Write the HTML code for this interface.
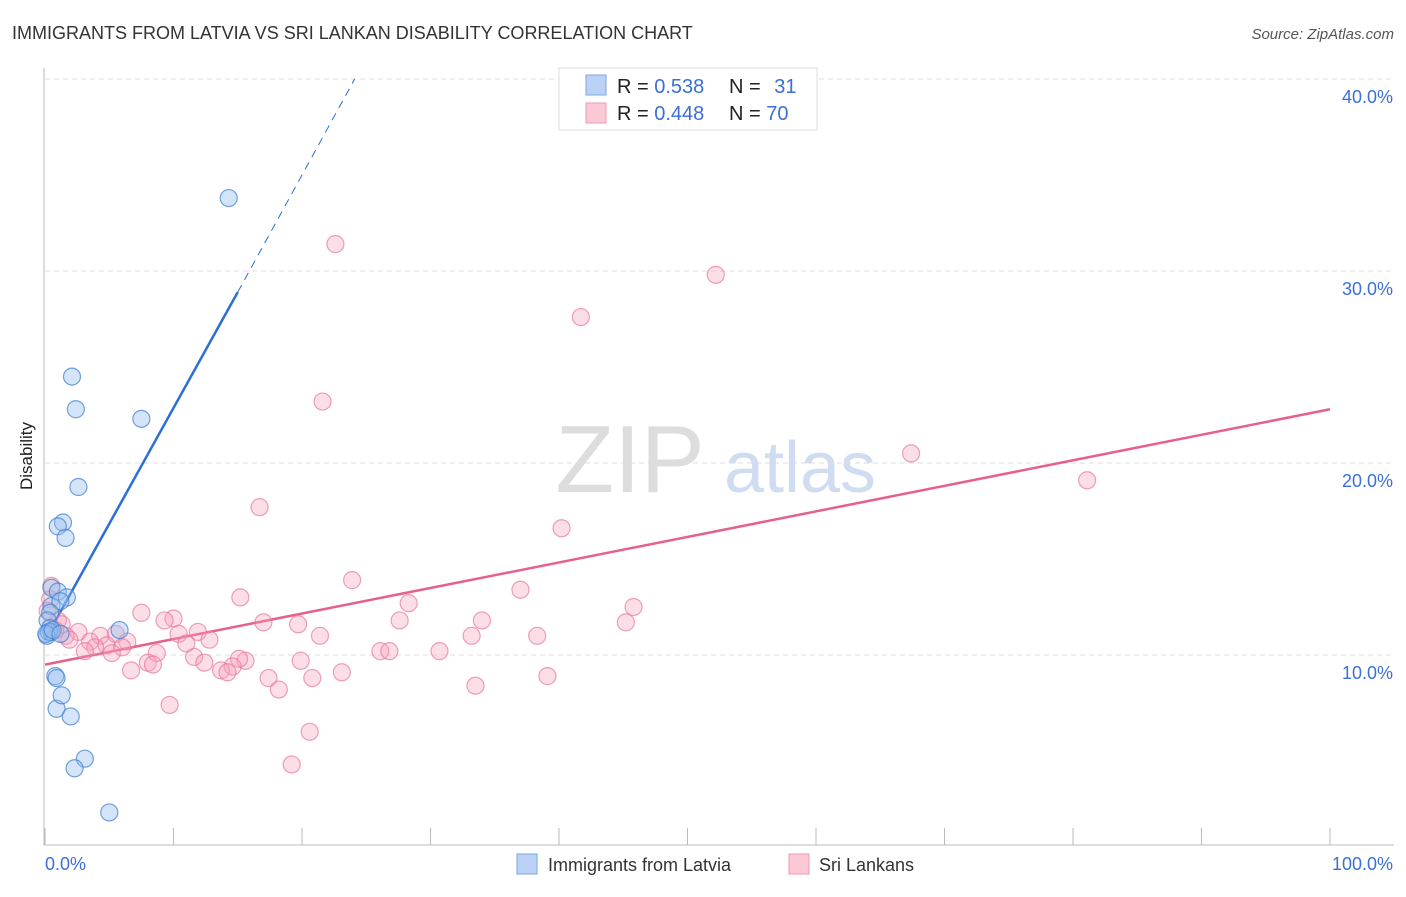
<!DOCTYPE html>
<html><head><meta charset="utf-8"><style>
body{margin:0;background:#fff;font-family:"Liberation Sans",sans-serif;}
svg text{font-family:"Liberation Sans",sans-serif;}
</style></head><body>
<svg id="chart" width="1406" height="892" xmlns="http://www.w3.org/2000/svg">
<text x="12" y="39" font-size="18" fill="#333">IMMIGRANTS FROM LATVIA VS SRI LANKAN DISABILITY CORRELATION CHART</text>
<text x="1394" y="39" font-size="15" fill="#555" font-style="italic" text-anchor="end">Source: ZipAtlas.com</text>
<text x="32" y="456" font-size="17" fill="#222" text-anchor="middle" transform="rotate(-90 32 456)">Disability</text>
<text x="630" y="492" font-size="96" fill="#ddd" font-family="Liberation Serif" text-anchor="middle">ZIP</text>
<text x="800" y="492" font-size="72" fill="#cfdcf2" text-anchor="middle">atlas</text>
<g id="grid"></g><g id="axes"></g><g id="lines"></g><g id="pts"></g>
<g>
<rect x="559" y="68" width="258" height="62" fill="#fff" stroke="#ddd"/>
<rect x="586" y="75" width="20" height="20" fill="#b9d2f5" stroke="#7ea6e0"/>
<rect x="586" y="103" width="20" height="20" fill="#fbc8d6" stroke="#ef9ab2"/>
<text x="617" y="93" font-size="20" fill="#222">R = <tspan fill="#3b6fd8">0.538</tspan></text>
<text x="729" y="93" font-size="20" fill="#222">N = <tspan fill="#3b6fd8" dx="8">31</tspan></text>
<text x="617" y="120" font-size="20" fill="#222">R = <tspan fill="#3b6fd8">0.448</tspan></text>
<text x="729" y="120" font-size="20" fill="#222">N = <tspan fill="#3b6fd8">70</tspan></text>
</g>
<g>
<rect x="517" y="854" width="20" height="20" fill="#b9d2f5" stroke="#7ea6e0"/>
<text x="548" y="871" font-size="18" fill="#333">Immigrants from Latvia</text>
<rect x="789" y="854" width="20" height="20" fill="#fbc8d6" stroke="#ef9ab2"/>
<text x="819" y="871" font-size="18" fill="#333">Sri Lankans</text>
</g>
</svg>
<script>
const yTicks=[10,20,30,40];
const yTickLabels=["10.0%","20.0%","30.0%","40.0%"];
const xEndLabels=["0.0%","100.0%"];
const latviaX=[14.3,2.1,2.4,7.5,2.6,1.4,1.0,1.6,0.5,1.0,1.7,0.5,1.2,0.4,0.2,0.4,0.15,0.5,5.8,0.8,0.9,0.9,1.3,2.0,3.1,2.3,5.0,0.3,0.1,0.6,1.2];
const latviaY=[33.8,24.5,22.8,22.3,18.75,16.9,16.7,16.1,13.5,13.3,13.0,12.55,12.8,12.2,11.8,11.4,11.0,11.2,11.3,8.9,8.8,7.2,7.9,6.8,4.6,4.1,1.8,11.2,11.1,11.3,11.1];
const lankaX=[22.6,52.2,41.7,21.6,67.4,81.1,16.7,40.2,23.9,37.0,15.2,28.3,45.8,7.5,10.0,34.0,27.6,9.3,45.2,17.0,19.7,21.4,33.2,38.3,11.9,10.4,2.6,5.5,4.3,1.6,3.5,6.4,11.0,12.8,4.8,6.0,3.9,3.1,5.2,8.7,26.1,26.8,30.7,11.6,12.4,15.6,19.9,15.1,8.0,8.4,14.6,6.7,13.7,14.2,23.1,17.4,20.8,39.1,18.2,33.5,9.7,20.6,19.2,0.5,0.4,1.0,0.8,1.3,0.2,1.9];
const lankaY=[31.4,29.8,27.6,23.2,20.5,19.1,17.7,16.6,13.9,13.4,13.0,12.7,12.5,12.2,11.9,11.8,11.8,11.8,11.7,11.7,11.6,11.0,11.0,11.0,11.2,11.1,11.2,11.1,11.0,11.0,10.7,10.7,10.6,10.8,10.5,10.4,10.4,10.2,10.1,10.1,10.2,10.2,10.2,9.9,9.6,9.7,9.7,9.8,9.6,9.5,9.4,9.2,9.2,9.1,9.1,8.8,8.8,8.9,8.2,8.4,7.4,6.0,4.3,13.6,12.9,11.8,11.3,11.6,12.3,10.8];
const latviaTrend=[[0,10.8],[15,28.9],[24.1,40.0]];
const lankaTrend=[[0,9.5],[100,22.8]];
const X=v=>45+v*12.85, Y=v=>847-v*19.2;
const NS="http://www.w3.org/2000/svg";
function mk(parent,tag,attrs){const e=document.createElementNS(NS,tag);for(const k in attrs)e.setAttribute(k,attrs[k]);document.getElementById(parent).appendChild(e);return e;}
yTicks.forEach((t,i)=>{
 const g=mk('grid','line',{x1:45,x2:1394,y1:Y(t),y2:Y(t),stroke:'#ddd','stroke-dasharray':'5,4'});
 
 
 const l=mk('grid','text',{x:1393,y:Y(t)+24,'font-size':18,fill:'#3b6fd8','text-anchor':'end'});
 l.textContent=yTickLabels[i];
 
 
});
const ax=mk('axes','path',{d:'M44 68V845H1394',fill:'none',stroke:'#bbb'});


for(let i=0;i<=10;i++){
 const t=mk('axes','line',{x1:X(i*10),x2:X(i*10),y1:828,y2:845,stroke:'#bbb'});
 
 
}
const xl0=mk('axes','text',{x:45,y:870,'font-size':18,fill:'#3b6fd8'});xl0.textContent=xEndLabels[0];


const xl1=mk('axes','text',{x:1393,y:870,'font-size':18,fill:'#3b6fd8','text-anchor':'end'});xl1.textContent=xEndLabels[1];


lankaX.forEach((x,i)=>{
 const c=mk('pts','circle',{cx:X(x),cy:Y(lankaY[i]),r:8.5,fill:'rgba(247,160,185,0.35)',stroke:'rgba(232,120,155,0.7)','stroke-width':1.2});
 
 
});
latviaX.forEach((x,i)=>{
 const c=mk('pts','circle',{cx:X(x),cy:Y(latviaY[i]),r:8.5,fill:'rgba(150,190,240,0.4)',stroke:'rgba(70,130,210,0.75)','stroke-width':1.2});
 
 
});
const b1=mk('lines','line',{x1:X(latviaTrend[0][0]),y1:Y(latviaTrend[0][1]),x2:X(latviaTrend[1][0]),y2:Y(latviaTrend[1][1]),stroke:'#2b6fd6','stroke-width':2.5});


const b2=mk('lines','line',{x1:X(latviaTrend[1][0]),y1:Y(latviaTrend[1][1]),x2:X(latviaTrend[2][0]),y2:Y(latviaTrend[2][1]),stroke:'#2b6fd6','stroke-width':1,'stroke-dasharray':'8,6'});


const p1=mk('lines','line',{x1:X(lankaTrend[0][0]),y1:Y(lankaTrend[0][1]),x2:X(lankaTrend[1][0]),y2:Y(lankaTrend[1][1]),stroke:'#e8608a','stroke-width':2.5});


</script>
</body></html>
